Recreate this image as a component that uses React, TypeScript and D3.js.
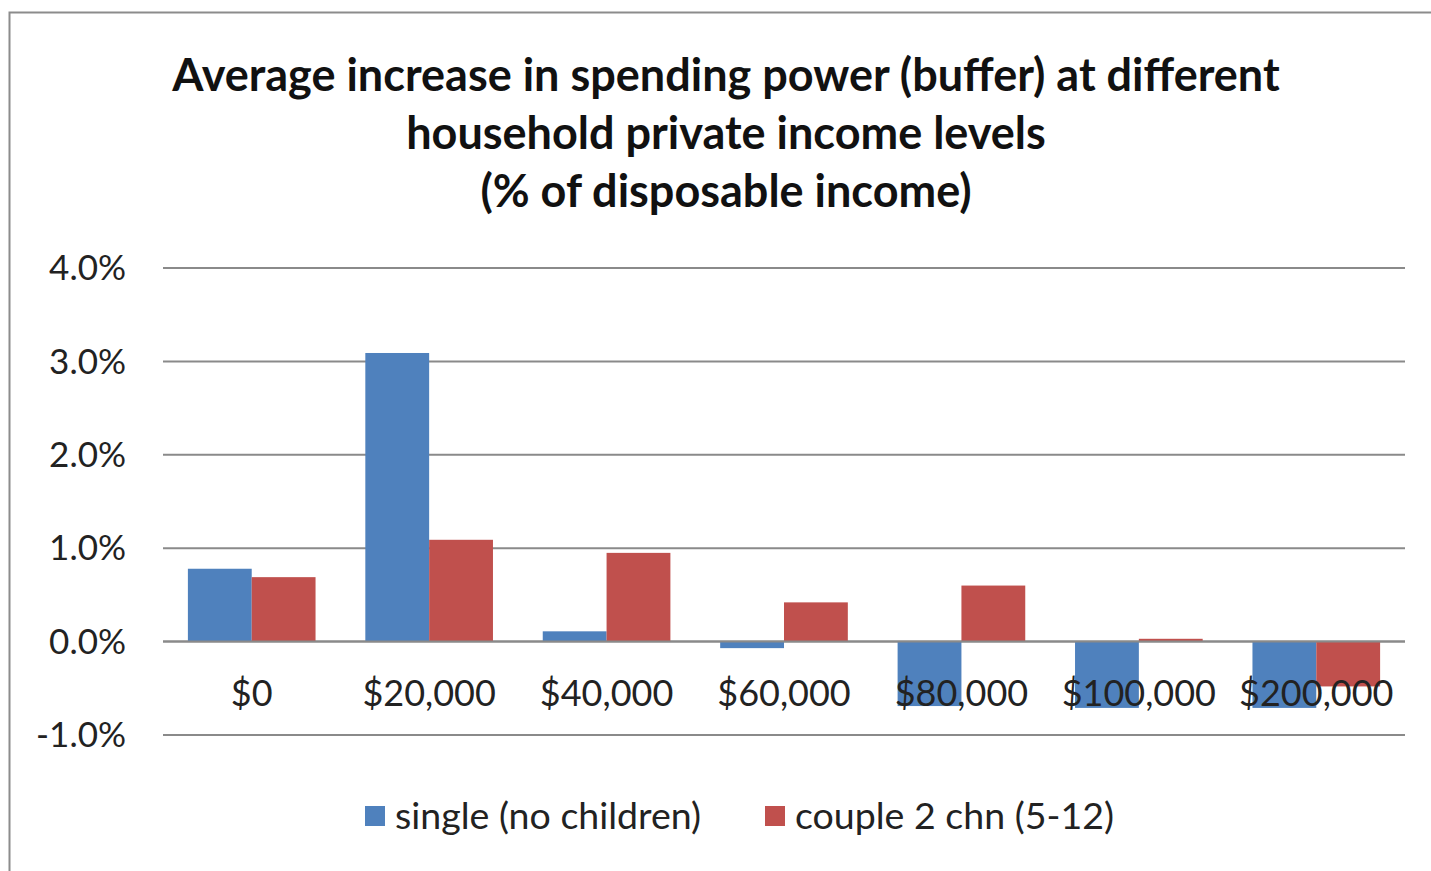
import * as d3 from "d3";

// income levels on the x axis
const categories = ["$0", "$20,000", "$40,000", "$60,000", "$80,000", "$100,000", "$200,000"];
const seriesNames = ["single (no children)", "couple 2 chn (5-12)"];
// % of disposable income
const single = [0.78, 3.09, 0.11, -0.07, -0.69, -0.71, -0.71];
const couple = [0.69, 1.09, 0.95, 0.42, 0.6, 0.03, -0.48];
const yTicks = [-1, 0, 1, 2, 3, 4];
const titleLines = [
  "Average increase in spending power (buffer) at different",
  "household  private income levels",
  "(% of disposable income)",
];

const colors = ["#4F81BD", "#C0504D"];
const font = "Lato, 'Open Sans', sans-serif";

export default function App() {
  const width = 1431;
  const height = 871;
  const left = 163;
  const right = 1405;

  const y = d3.scaleLinear().domain([-1, 4]).range([735, 268]);
  const x0 = d3.scaleBand<string>().domain(categories).range([left, right]).padding(0);
  const x1 = d3
    .scaleBand<number>()
    .domain([0, 1])
    .range([0, x0.bandwidth()])
    .paddingInner(0)
    .paddingOuter(0.39);

  const series = [single, couple];
  const fmt = (t: number) => t.toFixed(1) + "%";

  return (
    <svg
      width={width}
      height={height}
      style={{ position: "absolute", left: 0, top: 0, background: "#fff" }}
      fontFamily={font}
    >
      <rect x={9.5} y={12.5} width={1500} height={1000} fill="#fff" stroke="#8c8c8c" strokeWidth={2} />

      {titleLines.map((t, i) => (
        <text
          key={i}
          x={726}
          y={91 + i * 58}
          textAnchor="middle"
          fontWeight="bold"
          fontSize={45}
          fill="#111"
        >
          {t}
        </text>
      ))}

      {yTicks.map((t) => (
        <g key={t}>
          <line x1={left} x2={right} y1={y(t)} y2={y(t)} stroke="#8a8a8a" strokeWidth={2} />
          <text x={126} y={y(t)} dy="0.35em" textAnchor="end" fontSize={35} fill="#222">
            {fmt(t)}
          </text>
        </g>
      ))}

      {categories.map((c, i) => (
        <g key={c} transform={`translate(${x0(c)},0)`}>
          {series.map((s, j) => {
            const v = s[i];
            return (
              <rect
                key={j}
                x={x1(j)}
                width={x1.bandwidth()}
                y={Math.min(y(v), y(0))}
                height={Math.abs(y(v) - y(0))}
                fill={colors[j]}
              />
            );
          })}
        </g>
      ))}

      {/* zero line drawn over the bars */}
      <line x1={left} x2={right} y1={y(0)} y2={y(0)} stroke="#8a8a8a" strokeWidth={2} />

      {categories.map((c) => (
        <text
          key={c}
          x={(x0(c) ?? 0) + x0.bandwidth() / 2}
          y={693}
          dy="0.35em"
          textAnchor="middle"
          fontSize={36}
          fill="#222"
        >
          {c}
        </text>
      ))}

      {seriesNames.map((n, i) => {
        const lx = [365, 765][i];
        return (
          <g key={n}>
            <rect x={lx} y={806} width={20} height={20} fill={colors[i]} />
            <text x={lx + 30} y={816} dy="0.35em" fontSize={37.5} fill="#222">
              {n}
            </text>
          </g>
        );
      })}
    </svg>
  );
}
